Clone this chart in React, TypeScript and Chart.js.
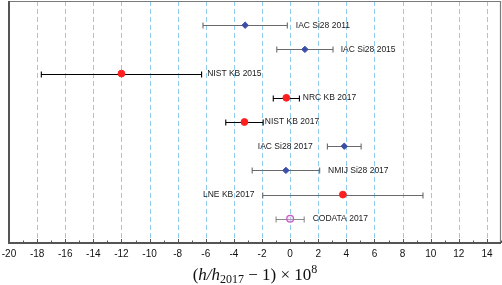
import { useEffect, useRef } from 'react';
import { Chart, registerables } from 'chart.js';

Chart.register(...registerables);

// ---- data ----
const names = [
  'IAC Si28 2011',
  'IAC Si28 2015',
  'NIST KB 2015',
  'NRC KB 2017',
  'NIST KB 2017',
  'IAC Si28 2017',
  'NMIJ Si28 2017',
  'LNE KB 2017',
  'CODATA 2017',
];
const values = [-3.2, 1.05, -12.0, -0.27, -3.25, 3.85, -0.3, 3.75, 0.0];
const uncertainties = [3.0, 2.0, 5.7, 0.93, 1.33, 1.2, 2.4, 5.7, 1.0];
const rows = [9, 8, 7, 6, 5, 4, 3, 2, 1];
const labelX = [0.4, 3.6, -5.9, 0.9, -1.8, -2.3, 2.7, -6.2, 1.6];
const groups = ['si', 'si', 'kbBlack', 'kbBlack', 'kbBlack', 'si', 'si', 'kbGray', 'codata'];
const xTicks = [-20, -18, -16, -14, -12, -10, -8, -6, -4, -2, 0, 2, 4, 6, 8, 10, 12, 14];
const xTickLabels = ['-20', '-18', '-16', '-14', '-12', '-10', '-8', '-6', '-4', '-2', '0', '2', '4', '6', '8', '10', '12', '14'];
const xMin = -20;
const xMax = 15;
const yMin = 0;
const yMax = 10;

type Style = {
  pointStyle: string;
  radius: number;
  fill: string;
  border: string;
  borderWidth: number;
  bar: string;
};

const styles: Record<string, Style> = {
  si: { pointStyle: 'rectRot', radius: 3.2, fill: '#3b4ea6', border: '#3b4ea6', borderWidth: 1, bar: '#6a6a6a' },
  kbBlack: { pointStyle: 'circle', radius: 3.4, fill: '#ff1f1f', border: '#ff1f1f', borderWidth: 1, bar: '#000000' },
  kbGray: { pointStyle: 'circle', radius: 3.4, fill: '#ff1f1f', border: '#ff1f1f', borderWidth: 1, bar: '#6a6a6a' },
  codata: { pointStyle: 'circle', radius: 3.4, fill: 'rgba(235,190,235,0.35)', border: '#c45ec4', borderWidth: 1.3, bar: '#8a8a8a' },
};

const decorPlugin = {
  id: 'decor',
  beforeDatasetsDraw(chart: any) {
    const { ctx, chartArea } = chart;
    const xs = chart.scales.x;
    const ys = chart.scales.y;
    ctx.save();
    // dashed grid lines
    ctx.strokeStyle = '#93cbec';
    ctx.lineWidth = 1;
    ctx.setLineDash([5, 3]);
    xTicks.forEach((t) => {
      if (t === xMin) return;
      const px = Math.round(xs.getPixelForValue(t)) + 0.5;
      ctx.beginPath();
      ctx.moveTo(px, chartArea.top);
      ctx.lineTo(px, chartArea.bottom);
      ctx.stroke();
    });
    ctx.setLineDash([]);
    // error bars
    values.forEach((v, i) => {
      const st = styles[groups[i]];
      const py = Math.round(ys.getPixelForValue(rows[i])) + 0.5;
      const x1 = xs.getPixelForValue(v - uncertainties[i]);
      const x2 = xs.getPixelForValue(v + uncertainties[i]);
      ctx.strokeStyle = st.bar;
      ctx.lineWidth = 1.1;
      ctx.beginPath();
      ctx.moveTo(x1, py);
      ctx.lineTo(x2, py);
      ctx.moveTo(x1, py - 3);
      ctx.lineTo(x1, py + 3);
      ctx.moveTo(x2, py - 3);
      ctx.lineTo(x2, py + 3);
      ctx.stroke();
    });
    ctx.restore();
  },
  afterDatasetsDraw(chart: any) {
    const { ctx, chartArea } = chart;
    const xs = chart.scales.x;
    const ys = chart.scales.y;
    ctx.save();
    // frame
    ctx.strokeStyle = '#7a7a7a';
    ctx.lineWidth = 1.2;
    ctx.beginPath();
    ctx.moveTo(chartArea.left, chartArea.top + 0.5);
    ctx.lineTo(chartArea.right - 0.5, chartArea.top + 0.5);
    ctx.lineTo(chartArea.right - 0.5, chartArea.bottom);
    ctx.stroke();
    ctx.strokeStyle = '#555555';
    ctx.lineWidth = 2;
    ctx.beginPath();
    ctx.moveTo(chartArea.left, chartArea.top);
    ctx.lineTo(chartArea.left, chartArea.bottom);
    ctx.lineTo(chartArea.right, chartArea.bottom);
    ctx.stroke();
    // ticks (major + minor, inward)
    ctx.lineWidth = 1;
    ctx.strokeStyle = '#555555';
    for (let t = xMin; t <= xMax; t += 1) {
      const px = Math.round(xs.getPixelForValue(t)) + 0.5;
      const len = t % 2 === 0 ? 4 : 2.5;
      ctx.beginPath();
      ctx.moveTo(px, chartArea.bottom);
      ctx.lineTo(px, chartArea.bottom - len);
      ctx.stroke();
    }
    // tick labels
    ctx.fillStyle = '#111111';
    ctx.font = '10px "Liberation Sans", Arial, sans-serif';
    ctx.textAlign = 'center';
    ctx.textBaseline = 'middle';
    xTicks.forEach((t, i) => {
      ctx.fillText(xTickLabels[i], xs.getPixelForValue(t), chartArea.bottom + 11);
    });
    // point labels
    ctx.fillStyle = '#1a1a1a';
    ctx.font = '8.5px "Liberation Sans", Arial, sans-serif';
    ctx.textAlign = 'left';
    ctx.textBaseline = 'middle';
    names.forEach((n, i) => {
      ctx.fillText(n, xs.getPixelForValue(labelX[i]), ys.getPixelForValue(rows[i]));
    });
    // axis title: (h/h_2017 − 1) × 10^8
    const fs = 17;
    const normal = `${fs}px "Liberation Serif", "DejaVu Serif", serif`;
    const italic = `italic ${fs}px "Liberation Serif", "DejaVu Serif", serif`;
    const small = `${Math.round(fs * 0.7)}px "Liberation Serif", "DejaVu Serif", serif`;
    const segs = [
      { t: '(', f: normal, dy: 0 },
      { t: 'h/h', f: italic, dy: 0 },
      { t: '2017', f: small, dy: 3 },
      { t: ' \u2212 1) \u00d7 10', f: normal, dy: 0 },
      { t: '8', f: small, dy: -7 },
    ];
    let total = 0;
    segs.forEach((s) => {
      ctx.font = s.f;
      total += ctx.measureText(s.t).width;
    });
    let cx = 255 - total / 2;
    const base = 280;
    ctx.fillStyle = '#111111';
    ctx.textBaseline = 'alphabetic';
    segs.forEach((s) => {
      ctx.font = s.f;
      ctx.fillText(s.t, cx, base + s.dy);
      cx += ctx.measureText(s.t).width;
    });
    ctx.restore();
  },
};

export default function App() {
  const ref = useRef<HTMLCanvasElement | null>(null);

  useEffect(() => {
    document.body.style.margin = '0';
    if (!ref.current) return;
    const pts = values.map((v, i) => ({ x: v, y: rows[i] }));
    const chart = new Chart(ref.current, {
      type: 'scatter',
      data: {
        datasets: [
          {
            data: pts,
            showLine: false,
            pointStyle: groups.map((g) => styles[g].pointStyle) as any,
            pointRadius: groups.map((g) => styles[g].radius),
            pointBackgroundColor: groups.map((g) => styles[g].fill),
            pointBorderColor: groups.map((g) => styles[g].border),
            pointBorderWidth: groups.map((g) => styles[g].borderWidth),
            pointHoverRadius: groups.map((g) => styles[g].radius),
          },
        ],
      },
      options: {
        animation: false,
        responsive: false,
        events: [],
        layout: { autoPadding: false, padding: { left: 9, right: 1, top: 1, bottom: 42 } },
        plugins: { legend: { display: false }, tooltip: { enabled: false } },
        scales: {
          x: { type: 'linear', min: xMin, max: xMax, display: false },
          y: { type: 'linear', min: yMin, max: yMax, display: false },
        },
      },
      plugins: [decorPlugin],
    });
    return () => chart.destroy();
  }, []);

  return (
    <div style={{ position: 'absolute', left: 0, top: 0, width: 502, height: 285, background: '#fff' }}>
      <canvas ref={ref} width={502} height={285} />
    </div>
  );
}
